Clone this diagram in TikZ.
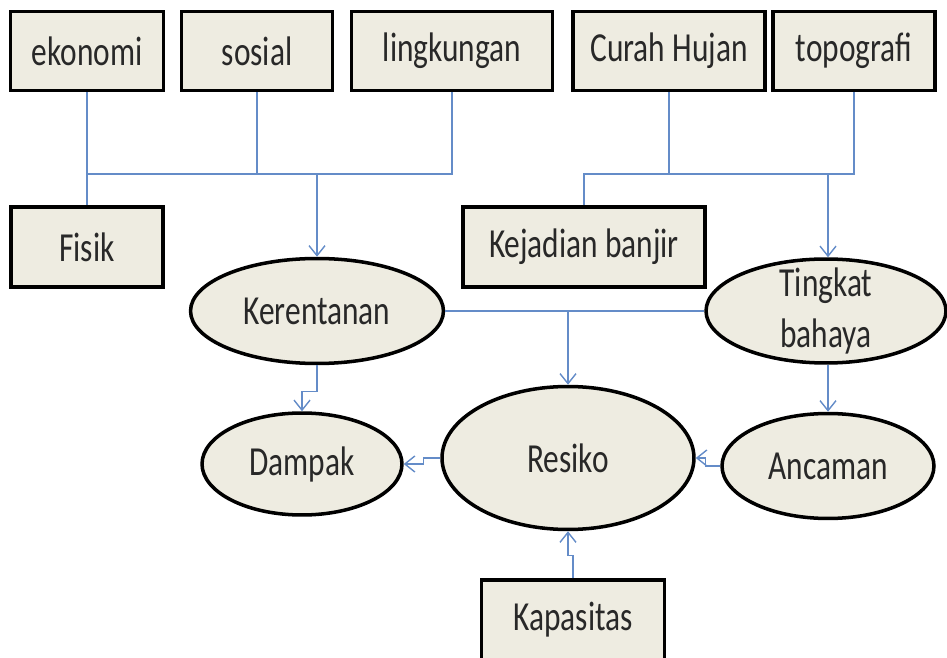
\documentclass[tikz,border=0pt]{standalone}
\usepackage{fontspec}
\setmainfont{Carlito}[FakeStretch=0.76]
\usetikzlibrary{positioning,shapes.geometric,arrows.meta}
\definecolor{linkblue}{RGB}{100,140,200}
\definecolor{boxfill}{RGB}{238,236,225}
\definecolor{inktext}{RGB}{40,40,40}

\begin{document}
\begin{tikzpicture}[x=0.02cm,y=-0.02cm,
    box/.style={draw, line width=2pt, fill=boxfill, text=inktext, minimum height=1.58cm, inner sep=0pt, font=\fontsize{23.5}{29}\selectfont},
    oval/.style={draw, ellipse, line width=2pt, fill=boxfill, text=inktext, inner sep=0pt, align=center, font=\fontsize{23.5}{29}\selectfont},
    link/.style={draw=linkblue, line width=0.8pt},
    arr/.style={link, -{Straight Barb[length=2mm,width=3.2mm]}}]
        \useasboundingbox (0,0) rectangle (947,658);
        % top row
        \node[box, minimum width=3.06cm] (ekonomi) at (87,51) {ekonomi};
        \node[box, minimum width=3.02cm] (sosial) at (257,51) {sosial};
        \node[box, minimum width=4.02cm] (lingkungan) at (452,51) {lingkungan};
        \node[box, minimum width=3.84cm] (curah) at (669,51) {Curah Hujan};
        \node[box, minimum width=3.24cm] (topografi) at (854,51) {topografi};
        % second row
        \node[box, minimum width=3.04cm, minimum height=1.6cm] (fisik) at (87,247) {Fisik};
        \node[box, minimum width=4.84cm, minimum height=1.6cm] (kejadian) at (584,247) {Kejadian banjir};
        \node[oval, minimum width=5.06cm, minimum height=2.1cm] (kerentanan) at (317,311) {Kerentanan};
        \node[oval, minimum width=4.8cm, minimum height=2.08cm, inner ysep=-0.4cm] (tingkat) at (826,311) {Tingkat\\bahaya};
        % bottom
        \node[oval, minimum width=4cm, minimum height=2.04cm] (dampak) at (302,464) {Dampak};
        \node[oval, minimum width=5.04cm, minimum height=2.86cm] (resiko) at (568,458) {Resiko};
        \node[oval, minimum width=4.24cm, minimum height=2.1cm] (ancaman) at (828,466) {Ancaman};
        \node[box, minimum width=3.66cm, minimum height=1.6cm] (kapasitas) at (573,620) {Kapasitas};

        % junctions
        \coordinate (busL) at (317,174);
        \coordinate (busR) at (828,174);
        \coordinate (mid) at (568,312);

        \draw[link] (ekonomi.south) -- (fisik.north);
        \draw[link] (sosial.south) -- (sosial.south |- busL);
        \draw[link] (lingkungan.south) |- (ekonomi.south |- busL);
        \draw[arr] (busL) -- (kerentanan.north);
        \draw[link] (curah.south) -- (curah.south |- busR);
        \draw[link] (topografi.south) |- (kejadian.north |- busR) -- (kejadian.north);
        \draw[arr] (busR) -- (busR |- tingkat.north);
        \draw[link] (kerentanan.east) -- (tingkat.west);
        \draw[arr] (mid) -- (resiko.north);
        \draw[arr] (kerentanan.south) -- ++(0,26) -| (dampak.north);
        \draw[arr] (tingkat.south -| ancaman.north) -- (ancaman.north);
        \draw[arr] (resiko.west) -- ++(-17,0) |- (dampak.east);
        \draw[arr] (ancaman.west) -- ++(-15,0) |- (resiko.east);
        \draw[arr] (kapasitas.north) -- ++(0,-23) -| (resiko.south);
\end{tikzpicture}
\end{document}
